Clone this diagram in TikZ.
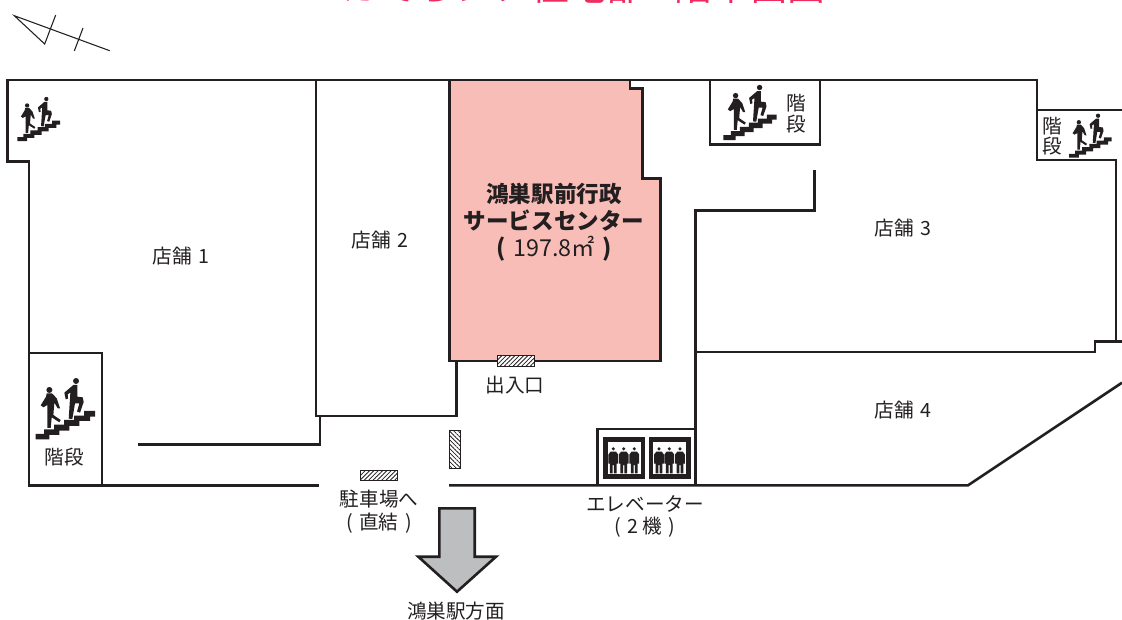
\documentclass[tikz,border=0pt]{standalone}
\usepackage{fontspec}
\setmainfont{Noto Sans CJK JP}
\usetikzlibrary{patterns.meta}
\definecolor{ink}{HTML}{231F20}
\definecolor{room}{HTML}{F9BDB8}
\definecolor{titlered}{HTML}{EE2A5F}
\definecolor{arrowgrey}{HTML}{BCBEC0}
\tikzset{
  wall/.style={draw=ink,line width=1.95pt,line join=miter},
  thinline/.style={draw=ink,line width=0.8pt},
  hatchbox/.style={draw=ink,line width=0.5pt,fill=white},
  label/.style={text=ink,font=\fontsize{14.7pt}{16pt}\selectfont,inner sep=0pt,align=center},
  boldlabel/.style={text=ink,font=\fontsize{16.9pt}{18pt}\selectfont\bfseries,inner sep=0pt},
}
\newcommand\stairicon[3]{%
 \begin{scope}[shift={(#1,#2)},scale=#3/3]
 \begin{scope}[shift={(-107,-298)}]
  \fill[ink] (107,282)--(132,282)--(132,268)--(162,268)--(162,254)--(192,254)--(192,240)--(222,240)--(222,227)--(252,227)--(252,213)--(285,213)--(285,230)--(270,230)--(270,243)--(238,243)--(238,258)--(208,258)--(208,272)--(178,272)--(178,285)--(148,285)--(148,298)--(107,298)--cycle;
  \fill[ink] (148,150) circle (9);
  \fill[ink] (228,123) circle (9);
  \fill[ink] (140,160)--(156,160)--(170,175)--(180,205)--(173,205)--(163,188)--(160,225)--(182,240)--(178,247)--(155,232)--(152,264)--(142,264)--(142,195)--(130,202)--(122,196)--(138,170)--cycle;
  \fill[ink] (220,135)--(232,135)--(232,170)--(248,172)--(251,186)--(240,218)--(231,215)--(238,190)--(225,190)--(217,237)--(206,236)--(211,158)--(203,163)--(204,176)--(197,178)--(193,158)--cycle;
 \end{scope}
 \end{scope}}
\newcommand\liftperson[1]{%
 \begin{scope}[shift={(#1,0)}]
  \fill[ink] (0,448.8) circle (1.7);
  \fill[ink] (-4.9,463.5)--(-4.9,454.5)--(-2.7,451.6)--(2.7,451.6)--(4.9,454.5)--(4.9,463.5)--(3.4,463.5)--(3.4,473.3)--(0.6,473.3)--(0.6,465)--(-0.6,465)--(-0.6,473.3)--(-3.4,473.3)--(-3.4,463.5)--cycle;
 \end{scope}}
\begin{document}
\begin{tikzpicture}[x=0.75pt,y=-0.75pt]
\path[use as bounding box,clip] (0,0) rectangle (1122,619);

% title (cut by the top edge)
\node[text=titlered,font=\fontsize{28.4pt}{30pt}\selectfont,anchor=base east,inner sep=0pt] (title) at (826,0) {カでらシア住宅部 1階平面図};

% north mark
\draw[thinline,line join=miter] (55.7,15)--(44.7,44)--(14.3,15.7)--(109.7,50.7);
\draw[thinline] (83,28)--(74.3,51);

% centre room
\draw[wall,fill=room] (449.3,80)--(630,80)--(630,88.7)--(642.7,88.7)--(642.7,178.5)--(660.7,178.5)--(660.7,361)--(449.3,361)--cycle;

% outer and shop walls
\draw[wall] (319,485.3)--(29,485.3)--(29,161.5)--(7.5,161.5)--(7.5,80)--(1037,80)--(1037,160)--(1116,160)--(1116,341.7);
\draw[wall] (1037,110)--(1122,110);
\draw[wall] (1122,341.7)--(1095,341.7)--(1095,352)--(695.7,352);
\draw[wall] (29,353)--(102,353)--(102,485.3);
\draw[wall] (137.7,444.7)--(320,444.7)--(320,416);
\draw[wall] (316,80)--(316,416)--(456.7,416)--(456.7,361);
\draw[wall] (814.3,170)--(814.3,210.7)--(695.7,210.7)--(695.7,485.3);
\draw[wall] (710,80)--(710,144.3)--(820,144.3)--(820,80);
\draw[wall] (449,485.3)--(968,485.3)--(1122,382.7);
\draw[wall] (597.3,485.3)--(597.3,429)--(695.7,429);

% hatched doors
\draw[hatchbox] (497.3,355.7) rectangle (534.7,366);
\path[pattern={Lines[angle=45,distance=2.3pt,line width=0.6pt]},pattern color=ink] (497.3,355.7) rectangle (534.7,366);
\draw[hatchbox] (360,470) rectangle (397.7,480.7);
\path[pattern={Lines[angle=45,distance=2.3pt,line width=0.6pt]},pattern color=ink] (360,470) rectangle (397.7,480.7);
\draw[hatchbox] (449.3,430.3) rectangle (460,468.3);
\path[pattern={Lines[angle=-45,distance=2.3pt,line width=0.6pt]},pattern color=ink] (449.3,430.3) rectangle (460,468.3);

% lift cars
\draw[ink,line width=3.2pt] (605.5,439.5) rectangle (642.8,476.5);
\draw[ink,line width=3.2pt] (651.2,439.5) rectangle (688.5,476.5);
\liftperson{613.3}\liftperson{623.7}\liftperson{634.3}
\liftperson{659}\liftperson{669.3}\liftperson{680}

% stair icons
\stairicon{35.7}{439.3}{1}
\stairicon{17.3}{141}{0.72}
\stairicon{723.3}{140}{0.9}
\stairicon{1069}{157.7}{0.72}

% direction arrow
\draw[wall,fill=arrowgrey] (439.3,508.3)--(474.7,508.3)--(474.7,556.7)--(496,556.7)--(457,591.7)--(418.3,556.7)--(439.3,556.7)--cycle;

% labels
\node[label] (s1) at (181,256) {店舗\,\,1};
\node[label] (s2) at (380,240) {店舗\,\,2};
\node[label] (s3) at (903,228) {店舗\,\,3};
\node[label] (s4) at (903,410) {店舗\,\,4};
\node[boldlabel] (c1) at (554,194) {鴻巣駅前行政};
\node[boldlabel] (c2) at (554,221) {サービスセンター};
\node[label,font=\fontsize{17.5pt}{19pt}\selectfont] (c3) at (554,249) {\textbf{(}\,\,197.8㎡\,\,\textbf{)}};
\node[label] (door) at (515,385) {出入口};
\node[label] (park1) at (379,499) {駐車場へ};
\node[label] (park2) at (379,523) {(\,\,直結\,\,)};
\node[label] (ev1) at (645,504) {エレベーター};
\node[label] (ev2) at (645,527) {(\,\,2 機\,\,)};
\node[label] (dir) at (456,611) {鴻巣駅方面};
\node[label] (k1) at (64,457) {階段};
\node[label] (k2a) at (796.7,103) {階};
\node[label] (k2b) at (796.7,124) {段};
\node[label] (k3a) at (1052,125.7) {階};
\node[label] (k3b) at (1052,145.7) {段};
\end{tikzpicture}
\end{document}
